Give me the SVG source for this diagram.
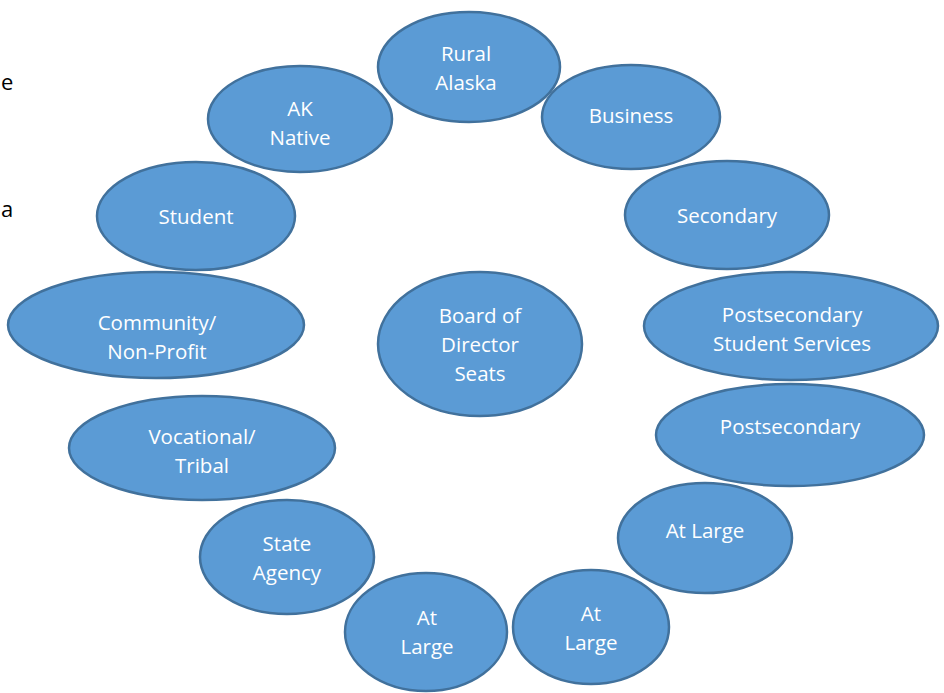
<svg xmlns="http://www.w3.org/2000/svg" width="944" height="693" viewBox="0 0 944 693">
<style>
.n ellipse{fill:#5B9BD5;stroke:#41719C;stroke-width:2.5}
.n text{fill:#fff;font-family:"Open Sans","Liberation Sans",sans-serif;font-size:20.5px;text-anchor:middle;dominant-baseline:central}
.side{fill:#000;font-family:"Open Sans","Liberation Sans",sans-serif;font-size:22px}
</style>
<rect width="944" height="693" fill="#fff"/>
<text class="side" x="1" y="90">e</text>
<text class="side" x="1" y="217">a</text>
<g id="connectors"/>
<g id="rural" class="n"><ellipse cx="469" cy="67" rx="91" ry="55"/><text x="466" y="53">Rural</text><text x="466" y="82">Alaska</text></g>
<g id="aknative" class="n"><ellipse cx="300" cy="119" rx="92" ry="53"/><text x="300" y="108">AK</text><text x="300" y="137">Native</text></g>
<g id="business" class="n"><ellipse cx="631" cy="117" rx="89" ry="52"/><text x="631" y="115">Business</text></g>
<g id="student" class="n"><ellipse cx="196" cy="216" rx="99" ry="54"/><text x="196" y="216">Student</text></g>
<g id="secondary" class="n"><ellipse cx="727" cy="215" rx="102" ry="54"/><text x="727" y="215">Secondary</text></g>
<g id="community" class="n"><ellipse cx="156" cy="325" rx="148" ry="53"/><text x="157" y="322">Community/</text><text x="157" y="351">Non-Profit</text></g>
<g id="board" class="n"><ellipse cx="480" cy="344" rx="102" ry="72"/><text x="480" y="315">Board of</text><text x="480" y="344">Director</text><text x="480" y="373">Seats</text></g>
<g id="pss" class="n"><ellipse cx="791" cy="326" rx="147" ry="54"/><text x="792" y="314">Postsecondary</text><text x="792" y="343">Student Services</text></g>
<g id="vocational" class="n"><ellipse cx="202" cy="448" rx="133" ry="52"/><text x="202" y="436">Vocational/</text><text x="202" y="465">Tribal</text></g>
<g id="postsecondary" class="n"><ellipse cx="790" cy="435" rx="134" ry="51"/><text x="790" y="426">Postsecondary</text></g>
<g id="state" class="n"><ellipse cx="287" cy="557" rx="87" ry="57"/><text x="287" y="543">State</text><text x="287" y="572">Agency</text></g>
<g id="atlarge1" class="n"><ellipse cx="705" cy="538" rx="87" ry="55"/><text x="705" y="530">At Large</text></g>
<g id="atlarge2" class="n"><ellipse cx="426" cy="632" rx="81" ry="59"/><text x="427" y="617">At</text><text x="427" y="646">Large</text></g>
<g id="atlarge3" class="n"><ellipse cx="591" cy="627" rx="78" ry="57"/><text x="591" y="613">At</text><text x="591" y="642">Large</text></g>
</svg>
